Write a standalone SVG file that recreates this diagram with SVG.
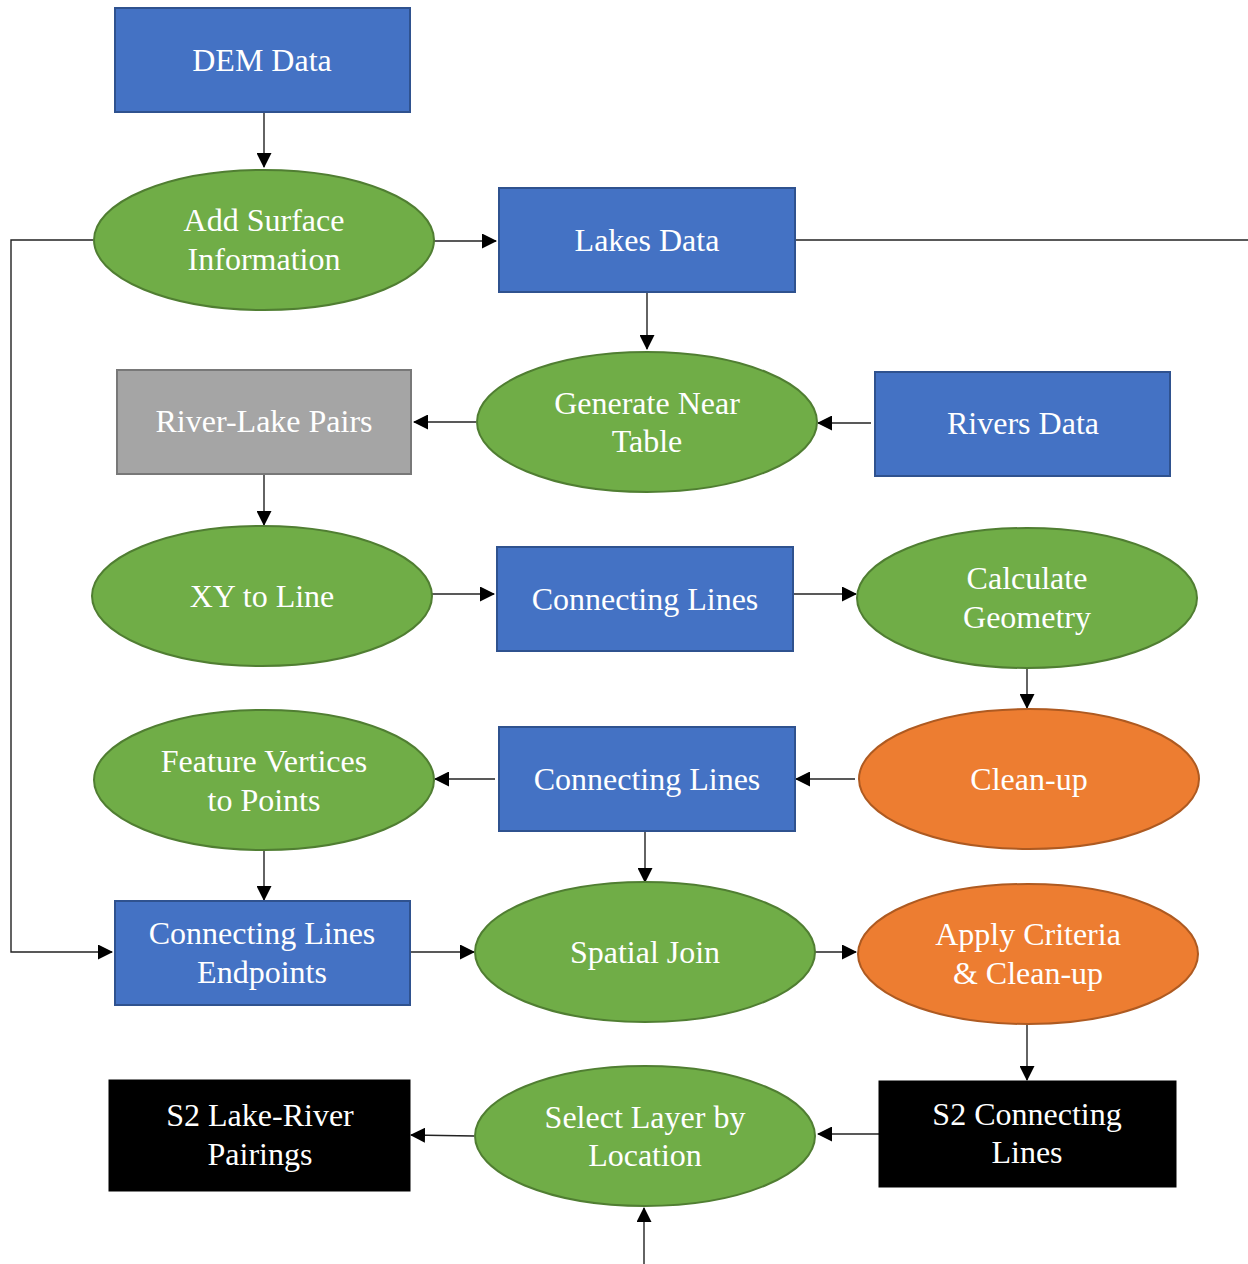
<svg xmlns="http://www.w3.org/2000/svg" width="1248" height="1264" viewBox="0 0 1248 1264">
<defs>
<marker id="ah" markerWidth="15" markerHeight="15" viewBox="0 0 15 15" refX="14" refY="7.5" orient="auto" markerUnits="userSpaceOnUse">
<path d="M0,0 L15,7.5 L0,15 Z" fill="#000"/>
</marker>
<style>
.blue{fill:#4472C4;stroke:#2F528F;stroke-width:2}
.gray{fill:#A5A5A5;stroke:#787878;stroke-width:2}
.green{fill:#70AD47;stroke:#507E32;stroke-width:2}
.orange{fill:#ED7D31;stroke:#AE5A21;stroke-width:2}
.black{fill:#000;stroke:#000;stroke-width:1}
text{font-family:"Liberation Serif","DejaVu Serif",serif;font-size:32px;fill:#fff;text-anchor:middle}
.c line,.c path{stroke:#222;stroke-width:1.4;fill:none}
.c .a{marker-end:url(#ah)}
</style>
</defs>
<rect width="1248" height="1264" fill="#fff"/>
<g class="c" id="connectors">
<line class="a" x1="264" y1="112" x2="264" y2="167"/>
<line class="a" x1="434" y1="241" x2="496" y2="241"/>
<path class="a" d="M93,240 H11 V952 H112"/>
<line x1="795" y1="240" x2="1248" y2="240"/>
<line class="a" x1="647" y1="292" x2="647" y2="349"/>
<line class="a" x1="871" y1="423" x2="818" y2="423"/>
<line class="a" x1="476" y1="422" x2="414" y2="422"/>
<line class="a" x1="264" y1="474" x2="264" y2="525"/>
<line class="a" x1="432" y1="594" x2="494" y2="594"/>
<line class="a" x1="793" y1="594" x2="856" y2="594"/>
<line class="a" x1="1027" y1="668" x2="1027" y2="708"/>
<line class="a" x1="855" y1="779" x2="796" y2="779"/>
<line class="a" x1="495" y1="779" x2="435" y2="779"/>
<line class="a" x1="264" y1="850" x2="264" y2="900"/>
<line class="a" x1="645" y1="831" x2="645" y2="882"/>
<line class="a" x1="410" y1="952" x2="474" y2="952"/>
<line class="a" x1="815" y1="952" x2="856" y2="952"/>
<line class="a" x1="1027" y1="1024" x2="1027" y2="1080"/>
<line class="a" x1="879" y1="1134" x2="818" y2="1134"/>
<line class="a" x1="474" y1="1136" x2="411" y2="1135"/>
<line class="a" x1="644" y1="1264" x2="644" y2="1208"/>
</g>
<g id="dem"><rect class="blue" x="115" y="8" width="295" height="104"/><text x="262" y="71">DEM Data</text></g>
<g id="addsurface"><ellipse class="green" cx="264" cy="240" rx="170" ry="70"/><text x="264" y="231">Add Surface</text><text x="264" y="270">Information</text></g>
<g id="lakes"><rect class="blue" x="499" y="188" width="296" height="104"/><text x="647" y="251">Lakes Data</text></g>
<g id="neartable"><ellipse class="green" cx="647" cy="422" rx="170" ry="70"/><text x="647" y="414">Generate Near</text><text x="647" y="452">Table</text></g>
<g id="pairs"><rect class="gray" x="117" y="370" width="294" height="104"/><text x="264" y="432">River-Lake Pairs</text></g>
<g id="rivers"><rect class="blue" x="875" y="372" width="295" height="104"/><text x="1023" y="434">Rivers Data</text></g>
<g id="xyline"><ellipse class="green" cx="262" cy="596" rx="170" ry="70"/><text x="262" y="607">XY to Line</text></g>
<g id="conn1"><rect class="blue" x="497" y="547" width="296" height="104"/><text x="645" y="610">Connecting Lines</text></g>
<g id="calcgeom"><ellipse class="green" cx="1027" cy="598" rx="170" ry="70"/><text x="1027" y="589">Calculate</text><text x="1027" y="628">Geometry</text></g>
<g id="fvpoints"><ellipse class="green" cx="264" cy="780" rx="170" ry="70"/><text x="264" y="772">Feature Vertices</text><text x="264" y="811">to Points</text></g>
<g id="conn2"><rect class="blue" x="499" y="727" width="296" height="104"/><text x="647" y="790">Connecting Lines</text></g>
<g id="cleanup"><ellipse class="orange" cx="1029" cy="779" rx="170" ry="70"/><text x="1029" y="790">Clean-up</text></g>
<g id="endpoints"><rect class="blue" x="115" y="901" width="295" height="104"/><text x="262" y="944">Connecting Lines</text><text x="262" y="983">Endpoints</text></g>
<g id="spatialjoin"><ellipse class="green" cx="645" cy="952" rx="170" ry="70"/><text x="645" y="963">Spatial Join</text></g>
<g id="criteria"><ellipse class="orange" cx="1028" cy="954" rx="170" ry="70"/><text x="1028" y="945">Apply Criteria</text><text x="1028" y="984">&amp; Clean-up</text></g>
<g id="s2pairings"><rect class="black" x="109" y="1080" width="301" height="111"/><text x="260" y="1126">S2 Lake-River</text><text x="260" y="1165">Pairings</text></g>
<g id="selectlayer"><ellipse class="green" cx="645" cy="1136" rx="170" ry="70"/><text x="645" y="1128">Select Layer by</text><text x="645" y="1166">Location</text></g>
<g id="s2lines"><rect class="black" x="879" y="1081" width="297" height="106"/><text x="1027" y="1125">S2 Connecting</text><text x="1027" y="1163">Lines</text></g>
</svg>
